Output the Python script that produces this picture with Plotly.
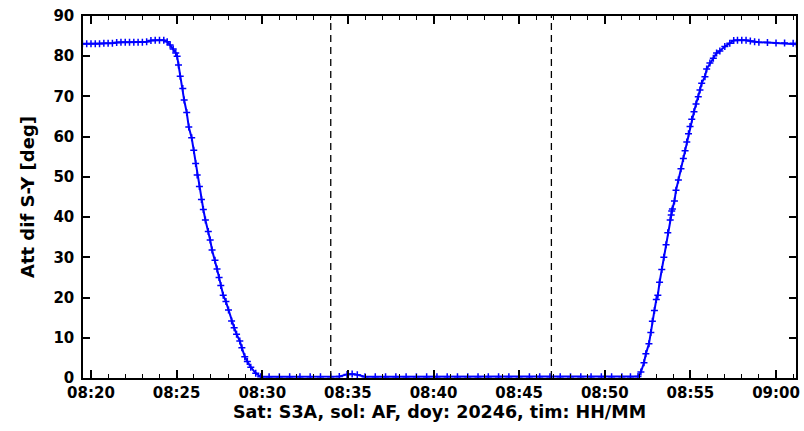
import pandas as pd
import plotly.graph_objects as go

# elapsed minutes after 08:20 on 2020-09-02 (doy 246) and attitude difference S-Y [deg]
elapsed_min = [
    -0.5, -0.25, 0.0, 0.25, 0.5, 0.75, 1.0, 1.25, 1.5, 1.75, 2.0, 2.25, 2.5, 2.75, 3.0, 3.25,
    3.5, 3.75, 4.0, 4.25, 4.45, 4.62, 4.8, 4.95,
    5.03, 5.11, 5.21, 5.36, 5.44, 5.59, 5.71, 5.88, 6.00, 6.11, 6.20, 6.33, 6.45, 6.56, 6.68,
    6.85, 6.96, 7.07, 7.24, 7.36, 7.48, 7.58, 7.72, 7.88, 8.03, 8.21, 8.36, 8.50, 8.69, 8.81,
    8.98, 9.13, 9.33, 9.62, 9.91,
    10.4, 11.0, 11.6, 12.2, 12.8, 13.4, 14.0, 14.5, 14.95, 15.25, 15.55, 16.0, 16.6, 17.2, 17.8,
    18.4, 19.0, 19.6, 20.2, 20.8, 21.4, 22.0, 22.6, 23.2, 23.8, 24.4, 25.0, 25.6, 26.2, 26.8,
    27.4, 28.0, 28.6, 29.2, 29.8, 30.4, 31.0, 31.5, 31.94,
    32.11, 32.29, 32.40, 32.58, 32.69, 32.78, 32.90, 33.01, 33.10, 33.20, 33.33, 33.45, 33.58,
    33.68, 33.82, 33.88, 33.91, 33.95, 34.07, 34.16, 34.30, 34.45, 34.59, 34.69, 34.79, 34.89,
    34.98, 35.08, 35.21, 35.33, 35.46, 35.56, 35.66, 35.85, 35.95, 36.14, 36.34, 36.53, 36.72,
    37.01, 37.30, 37.53, 37.75, 38.0, 38.25, 38.5, 38.75, 39.0, 39.5, 40.0, 40.5, 41.0, 41.2,
]
att_dif = [
    83.1, 83.1, 83.1, 83.1, 83.1, 83.2, 83.2, 83.2, 83.4, 83.5, 83.5, 83.5, 83.5, 83.5, 83.5, 83.6,
    83.9, 84.0, 84.0, 84.0, 83.6, 82.8, 81.8, 80.8,
    80.0, 77.8, 75.0, 72.0, 69.1, 66.0, 62.4, 59.7, 56.6, 53.3, 50.5, 47.6, 44.4, 41.9, 39.3,
    36.4, 34.3, 31.8, 29.3, 27.1, 25.0, 23.0, 20.6, 19.0, 16.9, 14.2, 12.5, 10.9, 9.2, 7.5,
    5.3, 4.1, 2.7, 1.2, 0.3,
    0.3, 0.3, 0.3, 0.3, 0.3, 0.3, 0.3, 0.4, 0.9, 1.0, 0.8, 0.3, 0.3, 0.3, 0.3,
    0.3, 0.3, 0.3, 0.3, 0.3, 0.3, 0.3, 0.3, 0.3, 0.3, 0.3, 0.3, 0.3, 0.3, 0.3,
    0.3, 0.3, 0.3, 0.3, 0.3, 0.3, 0.3, 0.3, 0.4,
    1.5, 3.8, 6.0, 8.5, 11.3, 14.1, 16.8, 19.5, 20.6, 23.8, 27.0, 30.0, 33.1,
    36.1, 39.3, 40.5, 41.5, 42.0, 44.0, 46.7, 49.2, 52.0, 54.6, 56.5, 58.7, 60.7,
    62.5, 64.3, 66.2, 68.1, 69.9, 71.6, 73.3, 74.9, 76.8, 78.3, 79.5, 80.8, 81.3,
    82.4, 83.2, 83.9, 84.0, 84.0, 84.0, 83.8, 83.6, 83.5, 83.4, 83.3, 83.3, 83.2, 83.0,
]
event_times = ["2020-09-02 08:34:00", "2020-09-02 08:46:53"]
x_range = ["2020-09-02 08:19:32", "2020-09-02 09:01:10"]
y_ticks = [0, 10, 20, 30, 40, 50, 60, 70, 80, 90]

base = pd.Timestamp("2020-09-02 08:20:00")
times = [base + pd.Timedelta(seconds=m * 60) for m in elapsed_min]

FONT = "DejaVu Sans"
fig = go.Figure()
fig.add_trace(go.Scatter(
    x=times, y=att_dif, mode="lines+markers",
    line=dict(color="#0000ff", width=2),
    marker=dict(symbol="cross-thin", size=5, color="#0000ff",
                line=dict(color="#0000ff", width=1.5)),
    showlegend=False,
))
for t in event_times:
    fig.add_shape(type="line", xref="x", yref="paper", x0=t, x1=t, y0=0, y1=1,
                  line=dict(color="black", width=1.3, dash="7px,5px"))

fig.update_layout(
    width=804, height=431,
    margin=dict(l=83, r=4, t=16, b=53),
    paper_bgcolor="white", plot_bgcolor="white",
    font=dict(family=FONT, size=15, color="black", weight="bold"),
)
fig.update_xaxes(
    type="date", range=x_range, tick0="2020-09-02 08:20:00", dtick=300000,
    tickformat="%H:%M", ticks="inside", ticklen=8, tickwidth=1.5, tickcolor="black",
    minor=dict(dtick=60000, ticks="inside", ticklen=4, tickwidth=1.3, tickcolor="black"),
    showline=True, linecolor="black", linewidth=1.5, mirror="ticks",
    showgrid=False, zeroline=False, ticklabelstandoff=0,
    title=dict(text="Sat: S3A, sol: AF, doy: 20246, tim: HH/MM",
               font=dict(family=FONT, size=17.5, weight="bold"), standoff=0),
)
fig.update_yaxes(
    range=[0, 90], tickvals=y_ticks, ticks="inside", ticklen=7, tickwidth=1.5,
    tickcolor="black", showline=True, linecolor="black", linewidth=1.5, mirror="ticks",
    showgrid=False, zeroline=False, ticklabelstandoff=4,
    title=dict(text="Att dif S-Y [deg]", font=dict(family=FONT, size=18, weight="bold"),
               standoff=14),
)
fig.write_html("out.html")
